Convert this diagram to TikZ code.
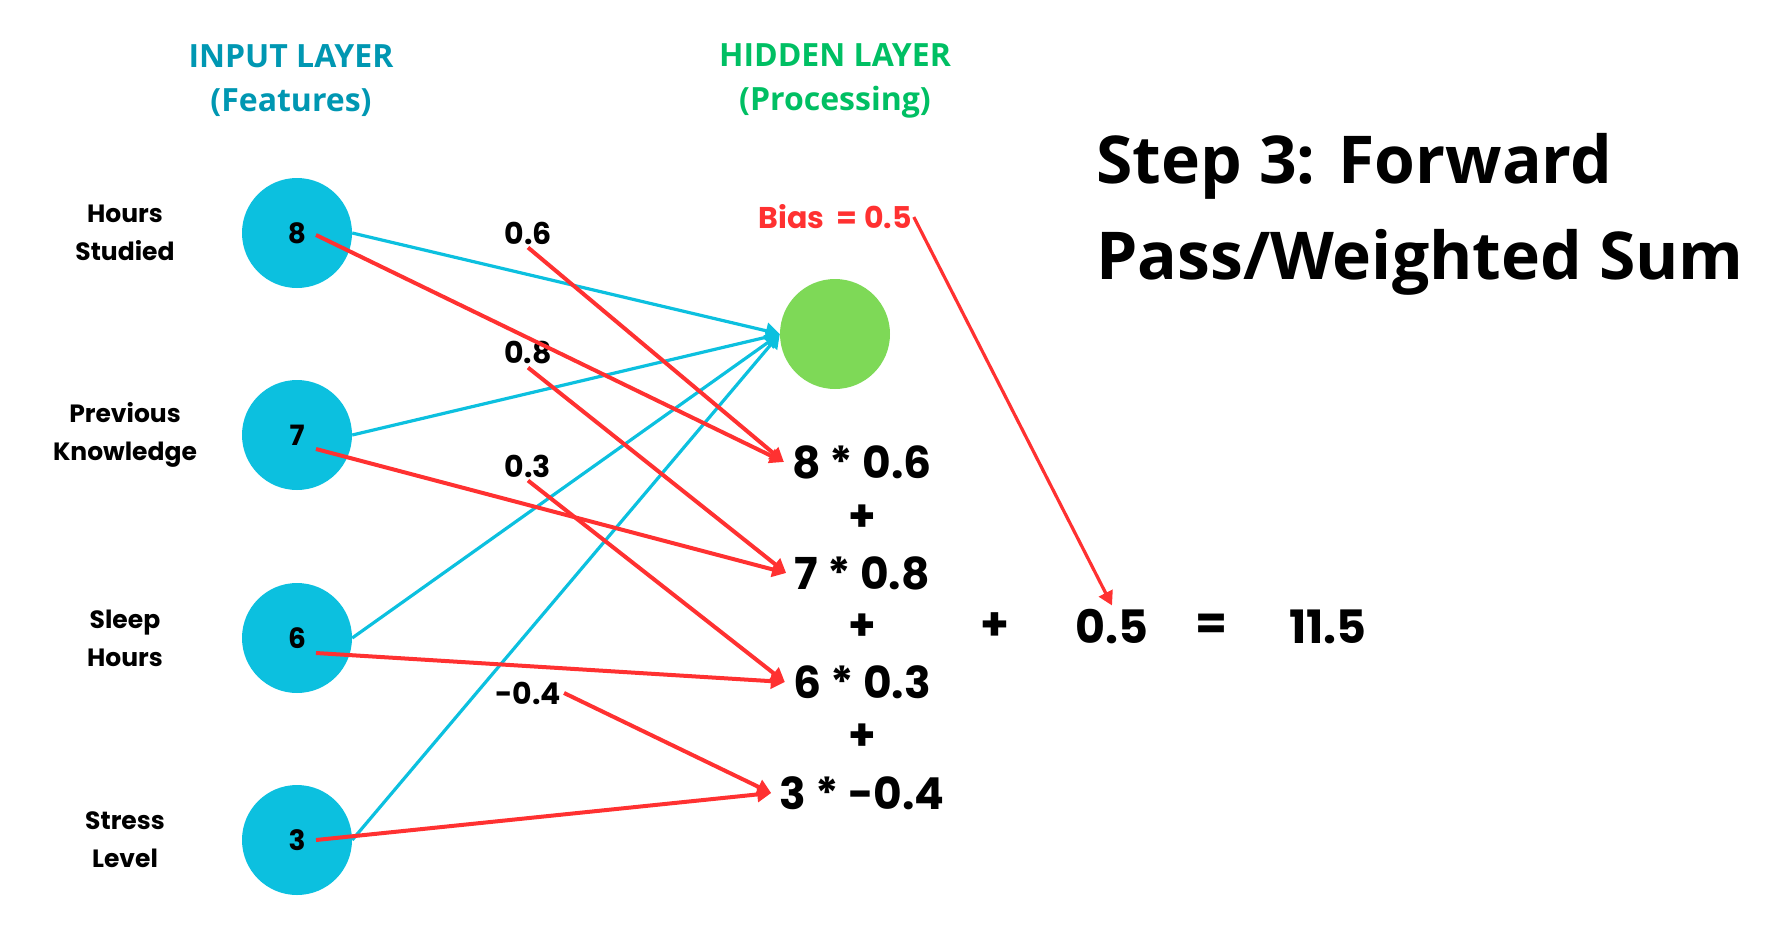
\documentclass[tikz,border=0pt]{standalone}
\usepackage{fontspec}
\setmainfont{Poppins}
\newfontfamily\headfont{Open Sans}
\usepackage{xcolor}
\usetikzlibrary{arrows.meta, positioning}

\definecolor{incyan}{HTML}{0CC0DF}
\definecolor{hidgreen}{HTML}{7ED957}
\definecolor{wred}{HTML}{FF3131}
\definecolor{inhead}{HTML}{0097B2}
\definecolor{hidhead}{HTML}{00BF63}

\begin{document}
\begin{tikzpicture}[x=1pt, y=-1pt,
    neuron/.style={circle, minimum size=110pt, inner sep=0pt, font=\fontsize{28}{30}\selectfont\bfseries},
    input/.style={neuron, fill=incyan},
    hidden/.style={neuron, fill=hidgreen},
    feature/.style={align=center, font=\fontsize{25}{38}\selectfont\bfseries},
    header/.style={align=center, font=\headfont\fontsize{32}{44}\selectfont\bfseries},
    weight/.style={font=\fontsize{30}{32}\selectfont\bfseries, inner sep=3pt},
    term/.style={font=\fontsize{44}{48}\selectfont\bfseries, inner sep=8pt},
    sumterm/.style={font=\fontsize{46}{50}\selectfont\bfseries, inner sep=4pt},
    blue arrow/.style={-{Triangle[length=14pt,width=16pt]}, draw=incyan, line width=3.2pt},
    red arrow/.style={-{Triangle[length=14pt,width=15pt]}, draw=wred, line width=4pt}
]
\useasboundingbox (0,0) rectangle (1769,945);

% Headers
\node[header, text=inhead] (inhead) at (291,81) {INPUT LAYER\\(Features)};
\node[header, text=hidhead] (hidhead) at (835,81) {HIDDEN LAYER\\(Processing)};

% Column 1: Input features
\node[feature] (lab1) at (125,233) {Hours\\Studied};
\node[feature] (lab2) at (125,435) {Previous\\Knowledge};
\node[feature] (lab3) at (125,638) {Sleep\\Hours};
\node[feature] (lab4) at (125,840) {Stress\\Level};

\node[input] (in1) at (297,233) {8};
\node[input] (in2) at (297,435) {7};
\node[input] (in3) at (297,638) {6};
\node[input] (in4) at (297,840) {3};

% Column 2: Hidden neuron
\node[hidden] (hid) at (835,334) {};
\node[weight, text=wred, inner sep=2pt] (bias) at (835,217) {Bias\ \ = 0.5};

% Weights
\node[weight] (w1) at (528,233) {0.6};
\node[weight] (w2) at (528,353) {0.8};
\node[weight] (w3) at (528,466) {0.3};
\node[weight] (w4) at (528,693) {-0.4};

% Weighted products
\node[term] (p1) at (862,462) {8 * 0.6};
\node[term] (plus1) at (862,518) {+};
\node[term] (p2) at (862,573) {7 * 0.8};
\node[term] (plus2) at (862,627) {+};
\node[term] (p3) at (862,682) {6 * 0.3};
\node[term] (plus3) at (862,737) {+};
\node[term] (p4) at (862,793) {3 * -0.4};

% Sum with bias
\node[sumterm] (plusb) at (995,627) {+};
\node[sumterm] (bval) at (1112,627) {0.5};
\node[sumterm] (eq) at (1211,627) {=};
\node[sumterm] (total) at (1328,627) {11.5};

% Title
\node[font=\headfont\fontsize{66}{96}\selectfont\bfseries, align=left, anchor=west, inner sep=0pt] (title) at (1096,214) {Step 3: Forward\\Pass/Weighted Sum};

% Connections to hidden neuron
\draw[blue arrow] (in1.east) -- (hid.west);
\draw[blue arrow] (in2.east) -- (hid.west);
\draw[blue arrow] (in3.east) -- (hid.west);
\draw[blue arrow] (in4.east) -- (hid.west);

% Inputs and weights to products
\draw[red arrow] ([xshift=19pt,yshift=-2pt]in1.center) -- (p1.west);
\draw[red arrow] (w1.south) -- (p1.west);
\draw[red arrow] ([xshift=19pt,yshift=-14pt]in2.center) -- (p2.west);
\draw[red arrow] (w2.south) -- (p2.west);
\draw[red arrow] ([xshift=19pt,yshift=-15pt]in3.center) -- (p3.west);
\draw[red arrow] (w3.south) -- (p3.west);
\draw[red arrow] ([xshift=19pt]in4.center) -- (p4.west);
\draw[red arrow] (w4.east) -- (p4.west);

% Bias
\draw[red arrow, line width=3.2pt] (bias.east) -- (bval.north);

\end{tikzpicture}
\end{document}
